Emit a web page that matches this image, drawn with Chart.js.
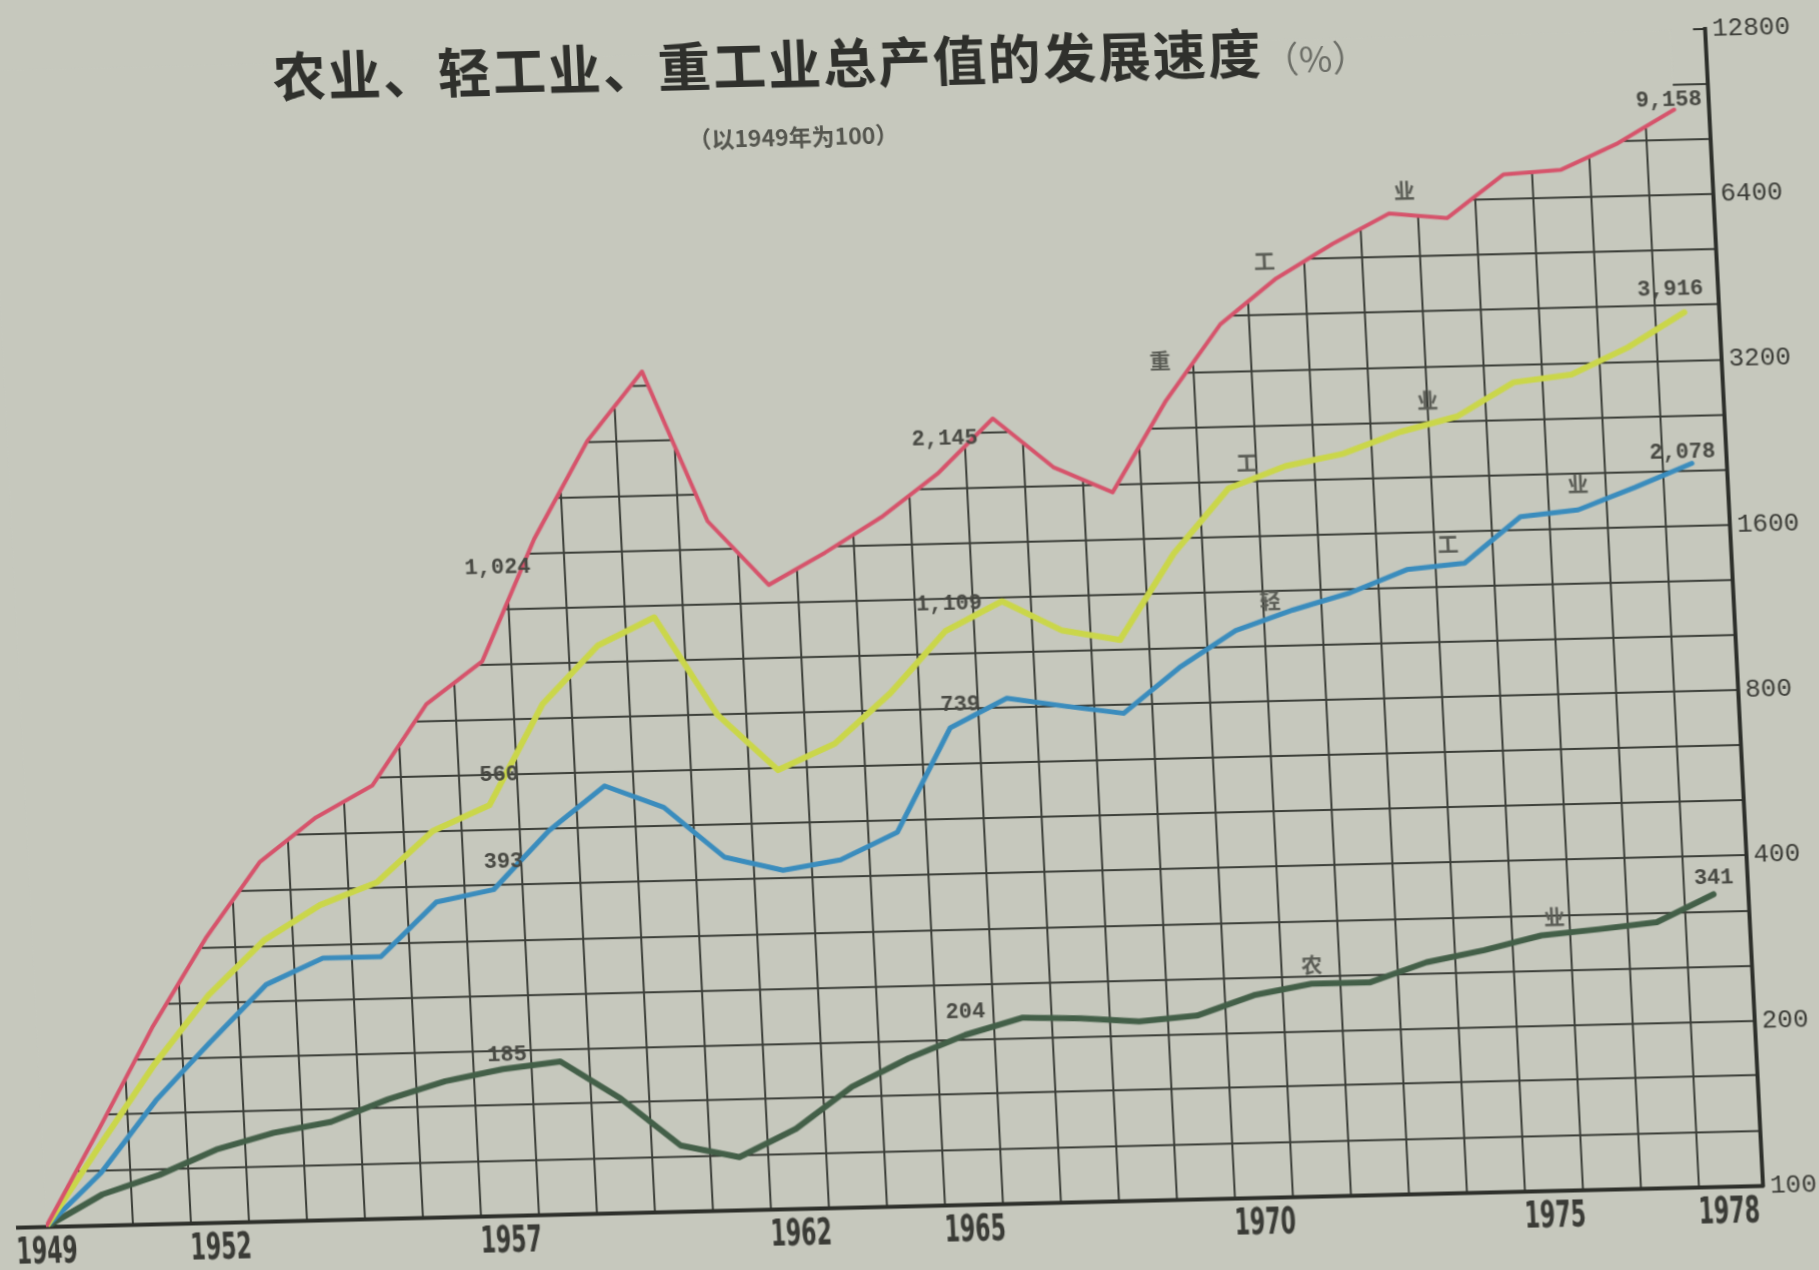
<!DOCTYPE html>
<html lang="zh">
<head>
<meta charset="UTF-8">
<title>农业、轻工业、重工业总产值的发展速度</title>
<style>
  html, body { margin: 0; overflow: hidden; background: #c6c8bd; }
  /* the printed page was photographed slightly askew */
  #wrap {
    position: relative; width: 1880px; height: 1270px;
    transform-origin: 0 0;
    transform: matrix(1, -0.0239, 0.0501, 1, -59.5, 41.1);
  }
  #title {
    position: absolute; left: 330px; top: 15px; line-height: 1;
    font-family: "Noto Sans CJK SC", sans-serif; font-weight: 700;
    font-size: 53px; color: #2f302c; letter-spacing: 2px; white-space: nowrap;
  }
  #title span { font-weight: 400; color: #6d6f68; font-size: 36px; letter-spacing: 0; }
  #sub {
    position: absolute; left: 742px; top: 104px; line-height: 1;
    font-family: "Noto Sans CJK SC", sans-serif; font-weight: 700;
    font-size: 23px; color: #55564f; white-space: nowrap;
  }
</style>
</head>
<body>
<div id="wrap">
  <canvas id="chart"></canvas>
  <div id="title">农业、轻工业、重工业总产值的发展速度<span>（%）</span></div>
  <div id="sub">（以1949年为100）</div>
</div>
<script src="https://cdn.jsdelivr.net/npm/chart.js"></script>
<script>
const years = [1949, 1950, 1951, 1952, 1953, 1954, 1955, 1956, 1957, 1958,
               1959, 1960, 1961, 1962, 1963, 1964, 1965, 1966, 1967, 1968,
               1969, 1970, 1971, 1972, 1973, 1974, 1975, 1976, 1977, 1978];

// 1949 = 100
const heavyIndustry = [100, 150, 228, 330, 452, 541, 615, 860, 1024, 1700,
                       2550, 3390, 1800, 1370, 1560, 1800, 2145, 2690, 2180, 1950,
                       2850, 3900, 4700, 5400, 6100, 5950, 7100, 7200, 8000, 9158];
const totalIndustry = [100, 140, 195, 260, 325, 375, 410, 505, 560, 850,
                       1080, 1210, 800, 630, 700, 860, 1109, 1250, 1100, 1050,
                       1500, 1960, 2140, 2240, 2440, 2590, 2970, 3050, 3400, 3916];
const lightIndustry = [100, 125, 168, 214, 270, 300, 300, 375, 393, 500,
                       600, 545, 440, 414, 430, 480, 739, 832, 800, 772,
                       930, 1080, 1170, 1250, 1370, 1400, 1690, 1730, 1890, 2078];
const agriculture   = [100, 114, 123, 136, 145, 151, 165, 177, 185, 190,
                       162, 132, 125, 140, 166, 186, 204, 218, 216, 212,
                       216, 234, 244, 244, 264, 276, 292, 298, 305, 341];

const yearLabels = [1949, 1952, 1957, 1962, 1965, 1970, 1975, 1978];
const yTickLabels = [100, 200, 400, 800, 1600, 3200, 6400, 12800];
const yGridValues = [100, 126, 159, 200, 252, 317, 400, 504, 635, 800, 1008,
                     1270, 1600, 2016, 2540, 3200, 4032, 5080, 6400, 8063, 10159, 12800];

const series = [heavyIndustry, totalIndustry, lightIndustry, agriculture];

// value tags: series index, year, text offset from the point
const valueTags = [
  { s: 0, year: 1957, dx: 53, dy: -93, align: 'right' },
  { s: 0, year: 1965, dx: 42, dy: -35, align: 'right' },
  { s: 0, year: 1978, dx: 28, dy: -9, align: 'right' },
  { s: 1, year: 1957, dx: 31, dy: -30, align: 'right' },
  { s: 1, year: 1965, dx: 38, dy: -27, align: 'right' },
  { s: 1, year: 1978, dx: 20, dy: -23, align: 'right' },
  { s: 2, year: 1957, dx: 31, dy: -27, align: 'right' },
  { s: 2, year: 1965, dx: 31, dy: -23, align: 'right' },
  { s: 2, year: 1978, dx: 24, dy: -11, align: 'right' },
  { s: 3, year: 1957, dx: 5, dy: -14, align: 'center' },
  { s: 3, year: 1965, dx: 1, dy: -23, align: 'center' },
  { s: 3, year: 1978, dx: 1, dy: -16, align: 'center' }
];

// series names written along the lines
const nameTags = [
  { s: 0, year: 1968.93, text: '重', dy: -47 },
  { s: 0, year: 1970.81, text: '工', dy: -26 },
  { s: 0, year: 1973.28, text: '业', dy: -24 },
  { s: 1, year: 1970.34, text: '工', dy: -18 },
  { s: 1, year: 1973.5, text: '业', dy: -24 },
  { s: 2, year: 1970.62, text: '轻', dy: -18 },
  { s: 2, year: 1973.73, text: '工', dy: -21 },
  { s: 2, year: 1976.02, text: '业', dy: -26 },
  { s: 3, year: 1971.02, text: '农', dy: -19 },
  { s: 3, year: 1975.24, text: '业', dy: -17 }
];

const paper = '#c6c8bd';
const gridColor = '#3b3e38';
const axisColor = '#2e302b';

function valueAt(data, yr) {
  const i = Math.min(Math.floor(yr - years[0]), data.length - 2);
  const t = yr - years[i];
  return Math.exp(Math.log(data[i]) * (1 - t) + Math.log(data[i + 1]) * t);
}

const tagPlugin = {
  id: 'tags',
  afterDatasetsDraw(chart) {
    const ctx = chart.ctx;
    const x = chart.scales.x, y = chart.scales.y;
    const area = chart.chartArea;
    ctx.save();
    // base line runs a little past the origin, small tick at the top of the scale
    ctx.strokeStyle = axisColor;
    ctx.lineWidth = 4;
    ctx.beginPath();
    ctx.moveTo(area.left - 30, area.bottom);
    ctx.lineTo(area.left, area.bottom);
    ctx.stroke();
    ctx.lineWidth = 2;
    ctx.beginPath();
    ctx.moveTo(area.right - 12, area.top);
    ctx.lineTo(area.right, area.top);
    ctx.stroke();

    ctx.textBaseline = 'middle';
    ctx.fillStyle = '#484943';
    ctx.font = 'bold 22px "Liberation Mono", monospace';
    valueTags.forEach(t => {
      const v = series[t.s][years.indexOf(t.year)];
      ctx.textAlign = t.align;
      ctx.fillText(v.toLocaleString('en-US'), x.getPixelForValue(t.year) + t.dx, y.getPixelForValue(v) + t.dy);
    });
    ctx.font = 'bold 21px "Noto Sans CJK SC", sans-serif';
    ctx.textAlign = 'center';
    ctx.fillStyle = '#5a5c55';
    nameTags.forEach(t => {
      const v = valueAt(series[t.s], t.year);
      ctx.fillText(t.text, x.getPixelForValue(t.year), y.getPixelForValue(v) + t.dy);
    });
    // narrow, tall year numbers like the print
    ctx.font = 'bold 38px "DejaVu Sans", sans-serif';
    ctx.fillStyle = '#3a3b36';
    yearLabels.forEach(yr => {
      ctx.save();
      ctx.translate(x.getPixelForValue(yr), area.bottom + 26);
      ctx.scale(0.58, 1);
      ctx.fillText(String(yr), 0, 0);
      ctx.restore();
    });
    ctx.restore();
  }
};

function points(data) {
  return data.map((v, i) => ({ x: years[i], y: v }));
}

const ctx = document.getElementById('chart').getContext('2d');
new Chart(ctx, {
  type: 'line',
  data: {
    datasets: [
      { label: '重工业', data: points(heavyIndustry), borderColor: '#d6536b', borderWidth: 4,
        fill: 'end', backgroundColor: paper },
      { label: '工业', data: points(totalIndustry), borderColor: '#cad64a', borderWidth: 6, fill: false },
      { label: '轻工业', data: points(lightIndustry), borderColor: '#3a8cbd', borderWidth: 5, fill: false },
      { label: '农业', data: points(agriculture), borderColor: '#435f48', borderWidth: 6, fill: false }
    ]
  },
  plugins: [tagPlugin],
  options: {
    responsive: true,
    maintainAspectRatio: false,
    animation: false,
    devicePixelRatio: 1,
    layout: { padding: { left: 46, right: 0, top: 30, bottom: 0 } },
    elements: {
      point: { radius: 0 },
      line: { tension: 0, borderJoinStyle: 'round', borderCapStyle: 'round' }
    },
    plugins: {
      legend: { display: false },
      tooltip: { enabled: false }
    },
    scales: {
      x: {
        type: 'linear',
        min: 1949,
        max: 1978.6,
        afterBuildTicks: (scale) => {
          scale.ticks = years.slice(1, -1).map(yr => ({ value: yr + 0.5 }));
        },
        afterFit: (scale) => { scale.height = 83; },
        grid: { color: gridColor, lineWidth: 2, drawTicks: false },
        border: { display: true, color: axisColor, width: 4 },
        ticks: { display: false }
      },
      y: {
        type: 'logarithmic',
        position: 'right',
        min: 100,
        max: 12800,
        afterBuildTicks: (scale) => {
          scale.ticks = yGridValues.map(v => ({ value: v }));
        },
        afterFit: (scale) => { scale.width = 117; },
        grid: {
          color: (c) => (c.tick && c.tick.value === 12800) ? 'rgba(0,0,0,0)' : gridColor,
          lineWidth: 2,
          drawTicks: false
        },
        border: { display: true, color: axisColor, width: 4 },
        ticks: {
          autoSkip: false,
          padding: 7,
          color: '#3a3b36',
          font: { family: '"Liberation Mono", monospace', size: 26 },
          callback: (v) => yTickLabels.includes(v) ? String(v) : ''
        }
      }
    }
  }
});
</script>
</body>
</html>
